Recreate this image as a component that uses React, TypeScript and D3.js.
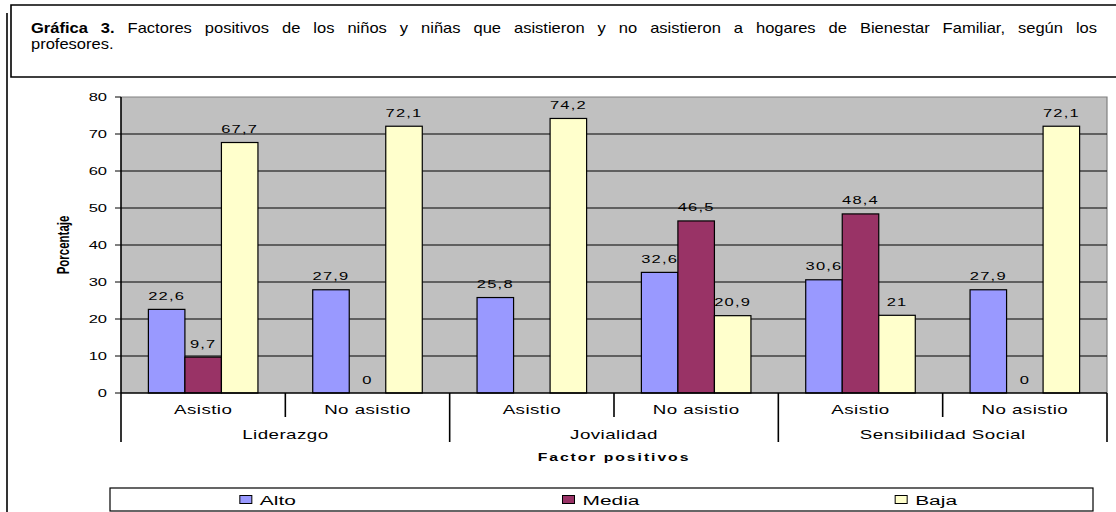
import * as d3 from "d3";
import { useLayoutEffect, useRef } from "react";

const groups = ["Liderazgo", "Jovialidad", "Sensibilidad Social"];
const subgroups = ["Asistio", "No asistio"];
const series = ["Alto", "Media", "Baja"];
const alto = [22.6, 27.9, 25.8, 32.6, 30.6, 27.9];
const media: (number | null)[] = [9.7, 0, null, 46.5, 48.4, 0];
const baja = [67.7, 72.1, 74.2, 20.9, 21, 72.1];
const yTicks = [0, 10, 20, 30, 40, 50, 60, 70, 80];
const colors = ["#9999FF", "#993366", "#FFFFCC"];

const W = 1116;
const H = 512;
const FONT = "'Liberation Sans', Arial, sans-serif";
const SX = 1.5; // chart image is stretched horizontally
const TITLE_SX = 1.18;

const fmt = (v: number) => String(v).replace(".", ",");

function Stretch({ x, y, children, size, anchor = "middle", bold = false, ls = 0, sx = SX }: any) {
  return (
    <text
      transform={`translate(${x},${y}) scale(${sx},1)`}
      textAnchor={anchor}
      fontSize={size}
      fontWeight={bold ? "bold" : "normal"}
      letterSpacing={ls}
      fill="#000"
    >
      {children}
    </text>
  );
}

export default function App() {
  const titleLine = useRef<SVGTextElement | null>(null);

  // first title line is justified in the source document: fill with word spacing
  useLayoutEffect(() => {
    const el = titleLine.current;
    if (!el) return;
    el.setAttribute("word-spacing", "0");
    const w = el.getComputedTextLength();
    const spaces = (el.textContent ?? "").split(" ").length - 1;
    el.setAttribute("word-spacing", String(Math.max(0, (1066 / TITLE_SX - w) / spaces)));
  }, []);

  const keys = groups.flatMap((g) => subgroups.map((s) => `${g}|${s}`));
  const values = [alto, media, baja];

  const x0 = d3.scaleBand<string>().domain(keys).range([121, 1107]);
  const x1 = d3.scaleBand<string>().domain(series).range([0, x0.bandwidth()]).paddingOuter(0.75);
  const y = d3.scaleLinear().domain([0, 80]).range([393, 97]);
  const left = x0.range()[0];
  const right = x0.range()[1];
  const groupW = x0.bandwidth() * subgroups.length;

  const legendX = d3.scaleBand<string>().domain(series).range([110, 1093]);

  return (
    <svg
      width={W}
      height={H}
      style={{ position: "absolute", left: 0, top: 0, fontFamily: FONT }}
    >
      <rect width={W} height={H} fill="#fff" />

      {/* frame and title box */}
      <line x1={7} x2={7} y1={13} y2={H} stroke="#000" strokeWidth={1.6} />
      <path d={`M${W},5H11V77H${W}`} fill="none" stroke="#000" strokeWidth={1.6} />
      <g transform={`translate(31,0) scale(${TITLE_SX},1)`}>
        <text ref={titleLine} x={0} y={33} fontSize={14}>
          <tspan fontWeight="bold">Gráfica 3.</tspan>
          <tspan> Factores positivos de los niños y niñas que asistieron y no asistieron a hogares de Bienestar Familiar, según los</tspan>
        </text>
        <text x={0} y={49} fontSize={14}>profesores.</text>
      </g>

      {/* plot area */}
      <rect x={left} y={y(80)} width={right - left} height={y(0) - y(80)} fill="#C0C0C0" />
      <path d={`M${left},${y(80)}H${right}V${y(0)}`} fill="none" stroke="#808080" strokeWidth={1.2} />
      {yTicks.slice(1, -1).map((t) => (
        <line key={t} x1={left} x2={right} y1={y(t)} y2={y(t)} stroke="#000" strokeWidth={1} />
      ))}

      {/* bars */}
      {keys.map((k, i) =>
        series.map((s, j) => {
          const v = values[j][i];
          if (v == null) return null;
          const bx = (x0(k) ?? 0) + (x1(s) ?? 0);
          return (
            <g key={k + s}>
              <rect
                x={bx}
                y={y(v)}
                width={x1.bandwidth()}
                height={y(0) - y(v)}
                fill={colors[j]}
                stroke="#000"
                strokeWidth={1.2}
              />
              <Stretch x={bx + x1.bandwidth() / 2} y={y(v) - 9.5} size={11} ls={0.8}>
                {fmt(v)}
              </Stretch>
            </g>
          );
        })
      )}

      {/* y axis */}
      <line x1={left} x2={left} y1={y(80)} y2={442} stroke="#000" strokeWidth={1.6} />
      {yTicks.map((t) => (
        <g key={t}>
          <line x1={left - 6} x2={left} y1={y(t)} y2={y(t)} stroke="#000" strokeWidth={1} />
          <Stretch x={left - 14} y={y(t) + 4} size={11} anchor="end">
            {t}
          </Stretch>
        </g>
      ))}
      <text
        transform={`translate(69,245) scale(${SX},1) rotate(-90)`}
        textAnchor="middle"
        fontSize={11.5}
        fontWeight="bold"
      >
        Porcentaje
      </text>

      {/* x axis */}
      <line x1={left} x2={right} y1={y(0)} y2={y(0)} stroke="#000" strokeWidth={1.6} />
      {keys.map((k, i) => (
        <g key={k}>
          {i % subgroups.length !== 0 && (
            <line x1={x0(k)} x2={x0(k)} y1={y(0)} y2={417} stroke="#000" strokeWidth={1.6} />
          )}
          <Stretch x={(x0(k) ?? 0) + x0.bandwidth() / 2} y={414} size={12.5} ls={0.3}>
            {k.split("|")[1]}
          </Stretch>
        </g>
      ))}
      {groups.map((g, i) => {
        const gx = left + i * groupW;
        return (
          <g key={g}>
            <line x1={gx + groupW} x2={gx + groupW} y1={y(0)} y2={442} stroke="#000" strokeWidth={1.6} />
            <Stretch x={gx + groupW / 2} y={439} size={12.5} ls={0.3}>
              {g}
            </Stretch>
          </g>
        );
      })}
      <Stretch x={(left + right) / 2} y={461} size={10.5} bold ls={1.3}>
        Factor positivos
      </Stretch>

      {/* legend */}
      <rect x={110} y={488} width={983} height={23} fill="#fff" stroke="#000" strokeWidth={1.2} />
      {series.map((s, i) => {
        const w = 20 + s.length * 10;
        const lx = (legendX(s) ?? 0) + legendX.bandwidth() / 2 - w / 2 - 4;
        return (
          <g key={s}>
            <rect x={lx} y={495.5} width={12} height={8} fill={colors[i]} stroke="#000" strokeWidth={1} />
            <Stretch x={lx + 20} y={505} size={13.5} anchor="start" sx={1.55}>
              {s}
            </Stretch>
          </g>
        );
      })}
    </svg>
  );
}
